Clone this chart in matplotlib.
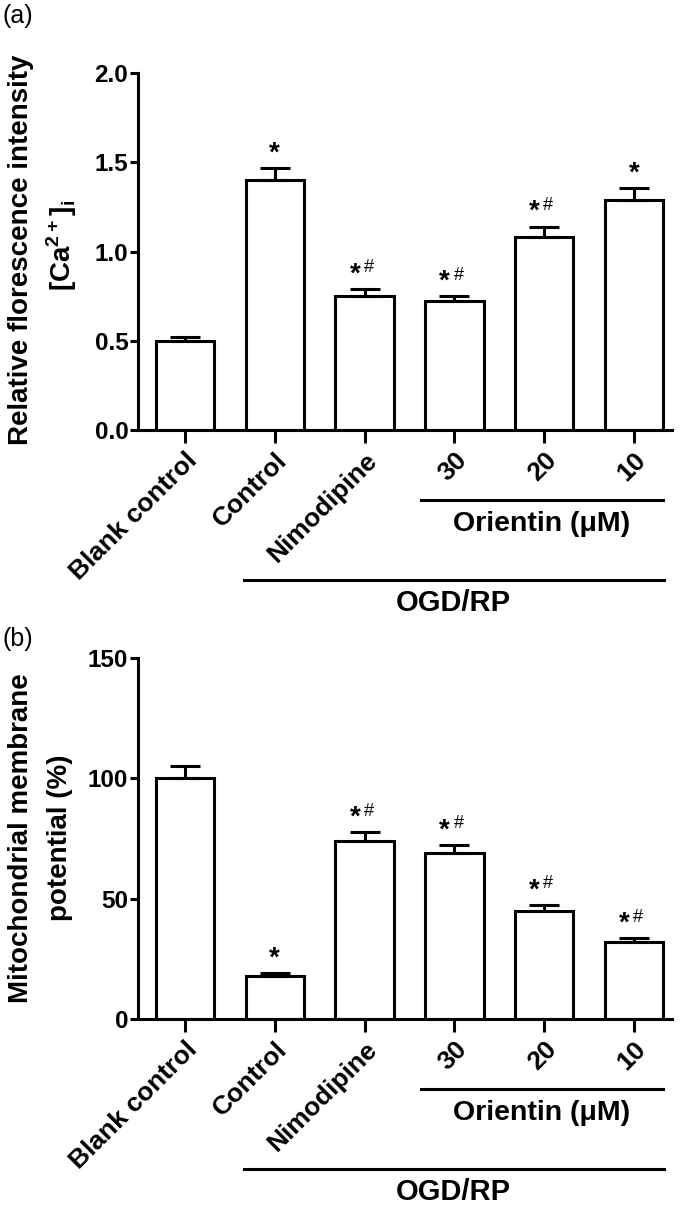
import matplotlib
matplotlib.use("Agg")
import matplotlib.pyplot as plt
from matplotlib.lines import Line2D

plt.rcParams['font.family'] = ['Liberation Sans', 'DejaVu Sans']
plt.rcParams['mathtext.fontset'] = 'custom'
plt.rcParams['mathtext.rm'] = 'Liberation Sans'
plt.rcParams['mathtext.bf'] = 'Liberation Sans:bold'

# data
groups = ["Blank control", "Control", "Nimodipine", "30", "20", "10"]
ca_means = [0.50, 1.40, 0.75, 0.72, 1.08, 1.29]
ca_errs = [0.02, 0.07, 0.04, 0.03, 0.06, 0.065]
ca_marks = ["", "*", "*#", "*#", "*#", "*"]
mmp_means = [100, 18, 74, 69, 45, 32]
mmp_errs = [5, 1, 3.5, 3.5, 2.5, 1.5]
mmp_marks = ["", "*", "*#", "*#", "*#", "*#"]

W, H = 683, 1206
fig = plt.figure(figsize=(W / 100, H / 100), dpi=100)

LW = 2.2


def add_axes(top, bottom, left=138, right=672):
    return fig.add_axes([left / W, 1 - bottom / H, (right - left) / W, (bottom - top) / H])


def draw_panel(ax, means, errs, marks, ymax, yticks, ticklabels, ax_h):
    x = list(range(len(groups)))
    ax.bar(x, means, width=0.65, color="white", edgecolor="black", linewidth=LW, zorder=2)
    ax.errorbar(x, means, yerr=[[0] * len(errs), errs], fmt="none", ecolor="black",
                elinewidth=LW, capsize=11, capthick=LW, zorder=3)
    ax.set_xlim(-0.523, 5.423)
    ax.set_ylim(0, ymax)
    ax.set_yticks(yticks)
    ax.set_yticklabels(ticklabels)
    for s in ["top", "right"]:
        ax.spines[s].set_visible(False)
    for s in ["left", "bottom"]:
        ax.spines[s].set_linewidth(LW)
    ax.tick_params(axis="y", length=6, width=LW, labelsize=17.5, pad=1)
    ax.tick_params(axis="x", length=9, width=LW, labelsize=19, pad=4)
    ax.set_xticks(x)
    ax.set_xticklabels(groups, rotation=45, ha="right", va="top", rotation_mode="anchor")
    for lab in ax.get_yticklabels() + ax.get_xticklabels():
        lab.set_fontweight("bold")

    for i, (m, e, mk) in enumerate(zip(means, errs, marks)):
        top = m + e
        if mk == "*":
            ax.annotate("*", (i, top), xytext=(0, 1), textcoords="offset points",
                        ha="center", va="bottom", fontsize=20, fontweight="bold")
        elif mk == "*#":
            ax.annotate("*", (i, top), xytext=(-7, 1), textcoords="offset points",
                        ha="center", va="bottom", fontsize=20, fontweight="bold")
            ax.annotate("#", (i, top), xytext=(3, 9), textcoords="offset points",
                        ha="center", va="bottom", fontsize=13)

    # group bars under the labels
    tr = ax.get_xaxis_transform()
    y1 = -70 / ax_h
    y2 = -150 / ax_h
    ax.add_line(Line2D([2.63, 5.32], [y1, y1], transform=tr, color="black", lw=LW, clip_on=False))
    ax.add_line(Line2D([0.657, 5.33], [y2, y2], transform=tr, color="black", lw=LW, clip_on=False))
    ax.text(3.975, -94 / ax_h, "Orientin (μM)", transform=tr, ha="center", va="center",
            fontsize=20.5, fontweight="bold")
    ax.text(2.99, -173 / ax_h, "OGD/RP", transform=tr, ha="center", va="center",
            fontsize=21, fontweight="bold")


# panel (a)
ax1 = add_axes(73, 430)
draw_panel(ax1, ca_means, ca_errs, ca_marks, 2.0, [0.0, 0.5, 1.0, 1.5, 2.0],
           ["0.0", "0.5", "1.0", "1.5", "2.0"], 357)
fig.text(21 / W, 1 - 250 / H, "Relative florescence intensity", rotation=90,
         ha="center", va="center", fontsize=20, fontweight="bold")
fig.text(62 / W, 1 - 245 / H, r"[Ca$^{\mathbf{2+}}$]$_{\mathbf{i}}$", rotation=90,
         ha="center", va="center", fontsize=20, fontweight="bold")
fig.text(2 / W, 1 - 16 / H, "(a)", ha="left", va="center", fontsize=18)

# panel (b)
ax2 = add_axes(658, 1019)
draw_panel(ax2, mmp_means, mmp_errs, mmp_marks, 150, [0, 50, 100, 150],
           ["0", "50", "100", "150"], 361)
fig.text(21 / W, 1 - 838 / H, "Mitochondrial membrane", rotation=90,
         ha="center", va="center", fontsize=20, fontweight="bold")
fig.text(60 / W, 1 - 838 / H, "potential (%)", rotation=90,
         ha="center", va="center", fontsize=20, fontweight="bold")
fig.text(2 / W, 1 - 639 / H, "(b)", ha="left", va="center", fontsize=18)

fig.savefig("out.png", dpi=100)
